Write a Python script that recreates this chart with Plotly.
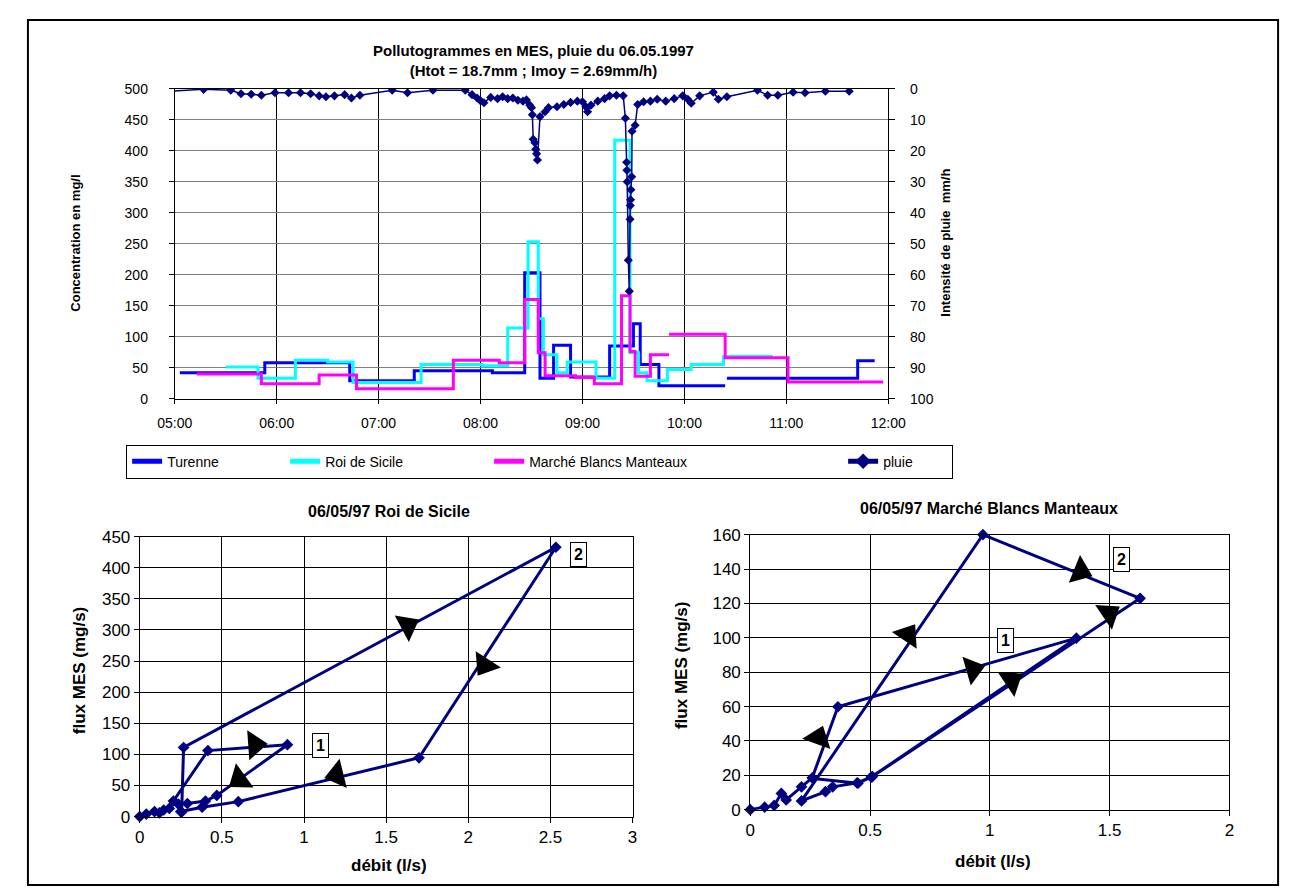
import plotly.graph_objects as go

W, H = 1291, 890
DAY = "1997-05-06 "
FONT = "Liberation Sans, Arial, sans-serif"

# ---------------- top chart data ----------------
title_line1 = "Pollutogrammes en MES, pluie du 06.05.1997"
title_line2 = "(Htot = 18.7mm ; Imoy = 2.69mm/h)"

turenne_t = ["05:03", "05:53", "06:43", "07:21", "08:07", "08:26", "08:35", "08:43", "08:53",
             "09:16", "09:30", "09:34", "09:45", "10:24", "10:24", "10:25", "11:42", "11:52"]
turenne_v = [42, 58, 29, 45, 42, 203, 33, 86, 35,
             85, 121, 55, 21, 21, None, 33, 61, 61]

roi_t = ["05:30", "05:49", "06:11", "06:30", "06:45", "07:25", "08:01", "08:16", "08:28", "08:34",
         "08:37", "08:45", "08:51", "09:08", "09:19", "09:28", "09:33", "09:38", "09:50", "10:04",
         "10:23", "10:52"]
roi_v = [51, 33, 62, 59, 26, 55, 53, 114, 253, 129,
         71, 42, 59, 33, 417, 74, 42, 29, 47, 55,
         68, 68]

mbm_t = ["05:13", "05:51", "06:25", "06:47", "07:44", "08:11", "08:26", "08:34", "08:38", "08:56",
         "09:07", "09:23", "09:28", "09:31", "09:40", "09:51", "09:51", "09:51", "10:24", "11:01",
         "11:57"]
mbm_v = [40, 24, 38, 16, 62, 58, 160, 74, 37, 34,
         24, 166, 76, 36, 71, 71, None, 104, 66, 27,
         27]

pluie_t = ["04:57", "05:17", "05:33", "05:39", "05:45", "05:51", "05:59", "06:07", "06:14", "06:20",
           "06:25", "06:29", "06:34", "06:40", "06:44", "06:49", "07:08", "07:17", "07:32", "07:51",
           "07:55", "07:58", "08:00", "08:02", "08:06", "08:10", "08:13", "08:16", "08:19", "08:22",
           "08:25", "08:27", "08:29", "08:30", "08:30:30", "08:31", "08:32", "08:32:30", "08:33", "08:33:30",
           "08:35", "08:38", "08:40", "08:45", "08:49", "08:53", "08:57", "09:00", "09:02", "09:03",
           "09:05", "09:09", "09:13", "09:16", "09:20", "09:24", "09:25:15", "09:26", "09:26:10", "09:26:20",
           "09:27", "09:27:35", "09:28", "09:28:10", "09:28:20", "09:28:30", "09:29", "09:29:10", "09:31", "09:32:30",
           "09:36", "09:40", "09:44", "09:49", "09:54", "09:59", "10:02", "10:04", "10:09", "10:17",
           "10:20", "10:25", "10:43", "10:49", "10:55", "11:04", "11:11", "11:23", "11:37"]
pluie_v = [0.8, 0.2, 0.5, 1.6, 1.8, 2.1, 1.3, 1.3, 1.3, 1.6,
           2.3, 2.6, 2.3, 1.9, 3.0, 2.1, 0.5, 1.3, 0.5, 0.5,
           1.9, 3.0, 3.9, 4.5, 2.8, 3.2, 2.6, 3.2, 3.0, 3.7,
           4.0, 3.6, 5.3, 6.1, 8.4, 16.3, 17.4, 19.5, 21.0, 23.0,
           9.0, 7.4, 6.1, 5.8, 5.1, 4.4, 4.0, 4.2, 5.8, 7.4,
           5.3, 4.0, 3.2, 2.3, 2.1, 2.3, 9.5, 23.7, 26.3, 30.0,
           55.3, 65.3, 42.1, 37.7, 35.8, 32.6, 28.4, 13.7, 11.8, 5.1,
           4.2, 4.0, 3.4, 4.0, 3.2, 2.3, 3.4, 4.7, 2.3, 1.1,
           3.4, 2.6, 0.5, 2.1, 2.1, 1.1, 1.3, 0.8, 0.8]

conc_ticks = list(range(0, 501, 50))
rain_ticks = list(range(0, 101, 10))

# ---------------- bottom-left (Roi de Sicile) ----------------
bl_title = "06/05/97 Roi de Sicile"
bl_debit = [0, 0.04, 0.09, 0.12, 0.146, 0.18, 0.205, 0.415, 0.899, 0.469,
            0.40, 0.29, 0.235, 0.255, 0.267, 2.533, 1.70, 0.60, 0.38, 0.25]
bl_flux = [0, 4, 8, 6, 10.5, 13, 25, 106, 115.5, 34,
           25, 21, 20, 7, 111, 433, 94.5, 24, 15, 8]
bl_arrow_x = [1.63, 2.10, 1.20, 0.70, 0.607]
bl_arrow_y = [307, 244, 67, 115.5, 60]
bl_arrow_dir = [62, 213, 256, 86, 234]

# ---------------- bottom-right (Marché Blancs Manteaux) ----------------
br_title = "06/05/97 Marché Blancs Manteaux"
br_debit = [0, 0.06, 0.10, 0.13, 0.15, 0.214, 0.259, 0.366, 1.361, 0.505,
            0.446, 0.344, 0.314, 0.214, 0.971, 1.627, 0.51, 0.45, 0.262]
br_flux = [0, 1.5, 2.5, 9.5, 5.7, 13.3, 18.6, 59.9, 99.8, 19,
           15.6, 13.3, 10.5, 5.1, 160, 123, 19.3, 15.4, 18.2]
br_arrow_x = [1.378, 1.497, 1.09, 0.658, 0.929, 0.285]
br_arrow_y = [138.7, 114, 75, 101.7, 81.7, 41.8]
br_arrow_dir = [112, 56, 56, 34, 74, 20]

x_label = "débit (l/s)"
y_label = "flux MES (mg/s)"


def fx(px):
    return px / W


def fy(py):
    return 1 - py / H


def ts(lst):
    return [DAY + t for t in lst]


fig = go.Figure()

step_colors = {"Turenne": "#0000FF", "Roi de Sicile": "#00FFFF", "Marché Blancs Manteaux": "#FF00FF"}
legw = {"Turenne": 113, "Roi de Sicile": 159, "Marché Blancs Manteaux": 309, "pluie": 64}
for name, tt, vv in [("Turenne", turenne_t, turenne_v), ("Roi de Sicile", roi_t, roi_v),
                     ("Marché Blancs Manteaux", mbm_t, mbm_v)]:
    fig.add_trace(go.Scatter(x=ts(tt), y=vv, mode="lines", name=name,
                             line=dict(color=step_colors[name], width=3, shape="hv"),
                             connectgaps=False, xaxis="x", yaxis="y", legendwidth=legw[name]))

fig.add_trace(go.Scatter(x=ts(pluie_t), y=pluie_v, mode="lines+markers", name="pluie",
                         line=dict(color="#000080", width=1.5),
                         marker=dict(symbol="diamond", size=7, color="#000080"),
                         xaxis="x", yaxis="y2", legendwidth=legw["pluie"]))

# bottom charts
for (xx, yy, ax, ay) in [(bl_debit, bl_flux, "x3", "y3"), (br_debit, br_flux, "x4", "y4")]:
    fig.add_trace(go.Scatter(x=xx, y=yy, mode="lines+markers", showlegend=False,
                             line=dict(color="#000080", width=3),
                             marker=dict(symbol="diamond", size=9, color="#000080"),
                             xaxis=ax, yaxis=ay, cliponaxis=False))

for (xx, yy, aa, ax, ay) in [(bl_arrow_x, bl_arrow_y, bl_arrow_dir, "x3", "y3"),
                             (br_arrow_x, br_arrow_y, br_arrow_dir, "x4", "y4")]:
    fig.add_trace(go.Scatter(x=xx, y=yy, mode="markers", showlegend=False, hoverinfo="skip",
                             marker=dict(symbol="triangle-up", size=26, color="black", angle=aa,
                                         line=dict(width=0)),
                             xaxis=ax, yaxis=ay))

tickfont_top = dict(family=FONT, size=14, color="black")
tickfont_bot = dict(family=FONT, size=17, color="black")

fig.update_layout(
    width=W, height=H, autosize=False,
    margin=dict(l=0, r=0, t=0, b=0),
    paper_bgcolor="white", plot_bgcolor="white",
    font=dict(family=FONT, color="black"),
    xaxis=dict(domain=[fx(153), fx(887)], type="date",
               range=[DAY + "05:00", DAY + "12:00"], dtick=3600000, tickformat="%H:%M",
               showgrid=True, gridcolor="black", gridwidth=1,
               showline=True, linecolor="black", linewidth=1, mirror=True,
               ticks="outside", ticklen=4, tickcolor="black",
               tickfont=tickfont_top, anchor="y", zeroline=False, ticklabelstandoff=8),
    yaxis=dict(domain=[fy(390), fy(73.3)], range=[0, 500], tickvals=conc_ticks,
               showgrid=True, gridcolor="#808080", gridwidth=1,
               showline=True, linecolor="black", linewidth=1,
               ticks="outside", ticklen=5, tickcolor="black",
               tickfont=tickfont_top, anchor="x", zeroline=False, ticklabelstandoff=18),
    yaxis2=dict(overlaying="y", side="right", range=[100, 0], tickvals=rain_ticks,
                showgrid=False, showline=True, linecolor="black", linewidth=1,
                ticks="outside", ticklen=6, tickcolor="black",
                tickfont=tickfont_top, anchor="x", zeroline=False, ticklabelstandoff=12),
    xaxis3=dict(domain=[fx(117), fx(624)], range=[0, 3], dtick=0.5,
                showgrid=True, gridcolor="black", gridwidth=1,
                showline=True, linecolor="black", linewidth=1, mirror=True,
                ticks="outside", ticklen=5, tickcolor="black",
                tickfont=tickfont_bot, anchor="y3", zeroline=False),
    yaxis3=dict(domain=[fy(817), fy(531)], range=[0, 450], dtick=50,
                showgrid=True, gridcolor="black", gridwidth=1,
                showline=True, linecolor="black", linewidth=1, mirror=True,
                ticks="outside", ticklen=5, tickcolor="black",
                tickfont=tickfont_bot, anchor="x3", zeroline=False),
    xaxis4=dict(domain=[fx(745), fx(1238)], range=[0, 2], dtick=0.5,
                showgrid=True, gridcolor="black", gridwidth=1,
                showline=True, linecolor="black", linewidth=1, mirror=True,
                ticks="outside", ticklen=5, tickcolor="black",
                tickfont=tickfont_bot, anchor="y4", zeroline=False),
    yaxis4=dict(domain=[fy(810), fy(529)], range=[0, 160], dtick=20,
                showgrid=True, gridcolor="black", gridwidth=1,
                showline=True, linecolor="black", linewidth=1, mirror=True,
                ticks="outside", ticklen=5, tickcolor="black",
                tickfont=tickfont_bot, anchor="x4", zeroline=False),
    legend=dict(x=fx(103), y=fy(437), xanchor="left", yanchor="top", orientation="h",
                bordercolor="black", borderwidth=1, bgcolor="white",
                font=dict(family=FONT, size=14, color="black"),
                tracegroupgap=0, itemsizing="constant"),
)

annotations = [
    dict(text="<b>" + title_line1 + "</b><br><b>" + title_line2 + "</b>", x=fx(522), y=fy(44),
         font=dict(family=FONT, size=15, color="black")),
    dict(text="<b>Concentration en mg/l</b>", x=fx(50), y=fy(231), textangle=-90,
         font=dict(family=FONT, size=13, color="black")),
    dict(text="<b>Intensité de pluie  mm/h</b>", x=fx(945), y=fy(231), textangle=-90,
         font=dict(family=FONT, size=13, color="black")),
    dict(text="<b>" + bl_title + "</b>", x=fx(373), y=fy(505),
         font=dict(family=FONT, size=16, color="black")),
    dict(text="<b>" + br_title + "</b>", x=fx(991), y=fy(502),
         font=dict(family=FONT, size=16, color="black")),
    dict(text="<b>" + x_label + "</b>", x=fx(373), y=fy(867),
         font=dict(family=FONT, size=17, color="black")),
    dict(text="<b>" + x_label + "</b>", x=fx(995), y=fy(863),
         font=dict(family=FONT, size=17, color="black")),
    dict(text="<b>" + y_label + "</b>", x=fx(55), y=fy(667), textangle=-90,
         font=dict(family=FONT, size=17, color="black")),
    dict(text="<b>" + y_label + "</b>", x=fx(675), y=fy(662), textangle=-90,
         font=dict(family=FONT, size=17, color="black")),
]
for a in annotations:
    a.update(xref="paper", yref="paper", showarrow=False, xanchor="center", yanchor="middle")

boxes = [("1", fx(303), fy(744)), ("2", fx(568), fy(549)), ("1", fx(1008), fy(637)), ("2", fx(1127), fy(554))]
for txt, bx, by in boxes:
    annotations.append(dict(text="<b>" + txt + "</b>", x=bx, y=by, xref="paper", yref="paper",
                            showarrow=False, xanchor="center", yanchor="middle",
                            bordercolor="black", borderwidth=1, bgcolor="white", borderpad=3,
                            font=dict(family=FONT, size=16, color="black")))
fig.update_layout(annotations=annotations)

fig.add_shape(type="rect", xref="paper", yref="paper", x0=fx(2), x1=fx(1288), y0=fy(887), y1=fy(3),
              line=dict(color="black", width=2), fillcolor="rgba(0,0,0,0)", layer="above")

fig.write_html("out.html")
